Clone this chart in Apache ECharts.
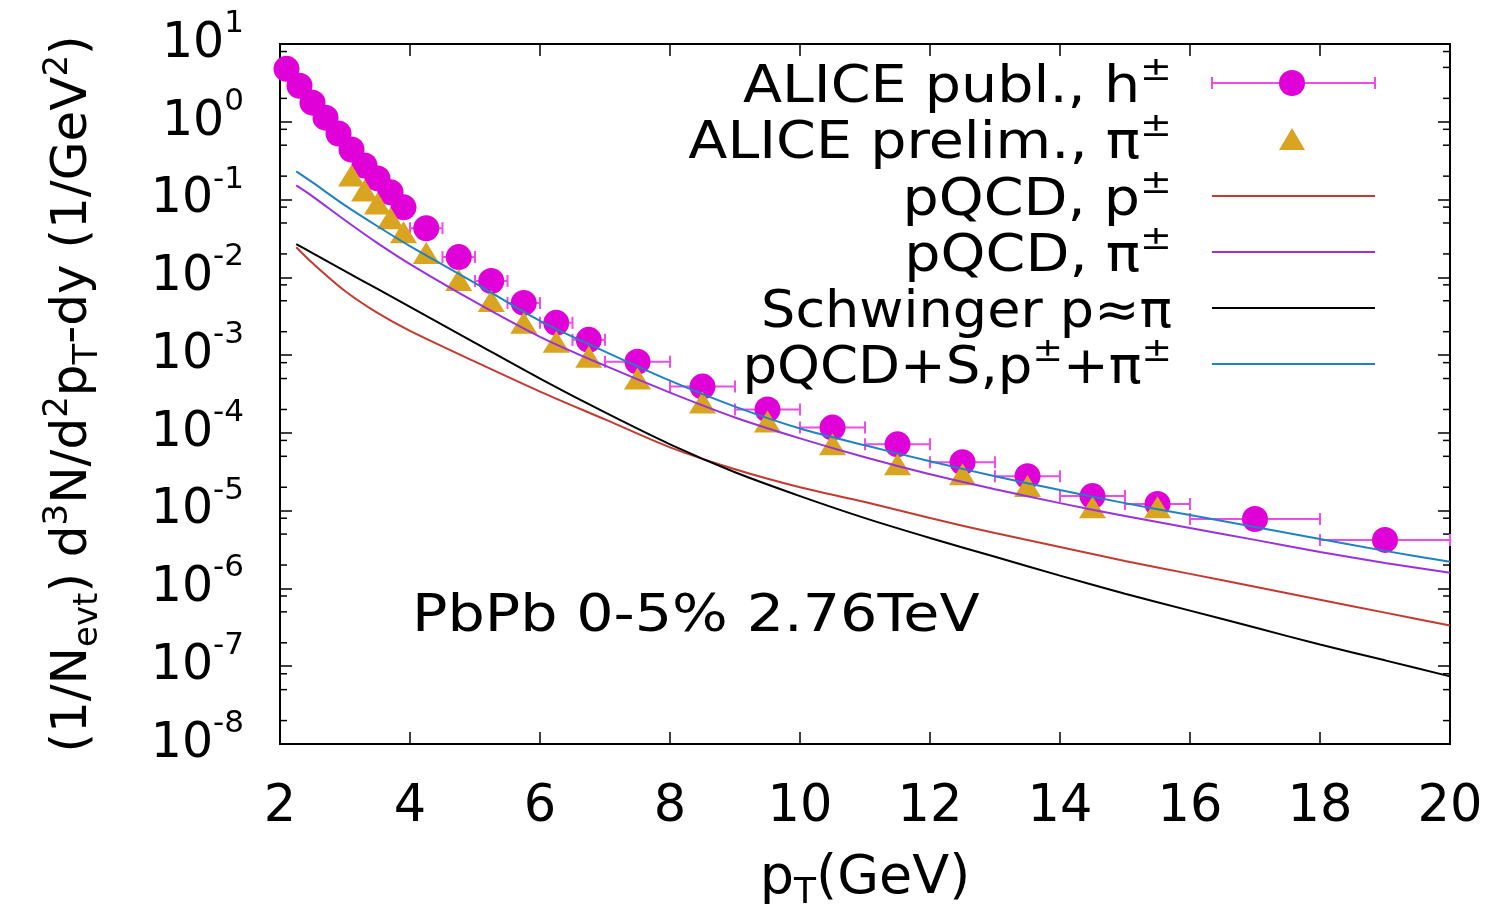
<!DOCTYPE html>
<html>
<head>
<meta charset="utf-8">
<script src="https://cdn.jsdelivr.net/npm/echarts@6/dist/echarts.min.js"></script>
<style>
html, body { margin: 0; padding: 0; background: #fff; }
#chart { width: 1499px; height: 917px; }
</style>
</head>
<body>
<div id="chart"></div>
<script>
/* ALICE published charged hadrons, bin centres / edges and yields */
const hPt  = [2.1, 2.3, 2.5, 2.7, 2.9, 3.1, 3.3, 3.5, 3.7, 3.9, 4.25, 4.75, 5.25, 5.75, 6.25, 6.75, 7.5, 8.5, 9.5, 10.5, 11.5, 12.5, 13.5, 14.5, 15.5, 17, 19];
const hLo  = [2.0, 2.2, 2.4, 2.6, 2.8, 3.0, 3.2, 3.4, 3.6, 3.8, 4.0, 4.5, 5.0, 5.5, 6.0, 6.5, 7, 8, 9, 10, 11, 12, 13, 14, 15, 16, 18];
const hHi  = [2.2, 2.4, 2.6, 2.8, 3.0, 3.2, 3.4, 3.6, 3.8, 4.0, 4.5, 5.0, 5.5, 6.0, 6.5, 7.0, 8, 9, 10, 11, 12, 13, 14, 15, 16, 18, 20];
const hVal = [4.79, 2.90, 1.76, 1.13, 0.705, 0.440, 0.274, 0.187, 0.124, 0.0794, 0.0428, 0.0182, 0.00897, 0.00469, 0.00260, 0.00157,
              8.24e-4, 3.94e-4, 2.00e-4, 1.17e-4, 7.12e-5, 4.19e-5, 2.77e-5, 1.54e-5, 1.22e-5, 7.80e-6, 4.21e-6];

/* ALICE preliminary pions */
const piPt  = [3.1, 3.3, 3.5, 3.7, 3.9, 4.25, 4.75, 5.25, 5.75, 6.25, 6.75, 7.5, 8.5, 9.5, 10.5, 11.5, 12.5, 13.5, 14.5, 15.5];
const piVal = [0.204, 0.131, 0.0893, 0.0574, 0.0380, 0.0205, 0.00923, 0.00497, 0.00260, 0.00148, 9.54e-4,
               4.99e-4, 2.46e-4, 1.40e-4, 7.13e-5, 3.95e-5, 2.94e-5, 2.07e-5, 1.11e-5, 1.11e-5];

/* model curves */
const curvePt   = [2.25, 2.5, 3, 3.5, 4, 5, 6, 7, 8, 9, 10, 11, 12, 13, 14, 15, 16, 17, 18, 19, 20];
const pqcdP     = [0.0244, 0.01525, 0.00668, 0.00349, 0.00205, 8.24e-4, 3.40e-4, 1.49e-4, 6.52e-5, 3.41e-5, 2.00e-5,
                   1.29e-5, 8.03e-6, 5.16e-6, 3.42e-6, 2.26e-6, 1.54e-6, 1.05e-6, 7.16e-7, 4.89e-7, 3.33e-7];
const pqcdPi    = [0.152, 0.110, 0.0542, 0.0275, 0.01479, 0.00483, 0.00172, 7.31e-4, 3.30e-4, 1.58e-4, 8.51e-5,
                   4.86e-5, 2.94e-5, 1.89e-5, 1.25e-5, 8.53e-6, 5.98e-6, 4.21e-6, 2.95e-6, 2.13e-6, 1.59e-6];
const schwinger = [0.0267, 0.0205, 0.01205, 0.00708, 0.00417, 0.00144, 4.99e-4, 1.83e-4, 7.13e-5, 3.12e-5, 1.54e-5,
                   8.03e-6, 4.46e-6, 2.55e-6, 1.46e-6, 8.55e-7, 5.19e-7, 3.14e-7, 1.90e-7, 1.19e-7, 7.40e-8];
const pqcdS     = [0.230, 0.166, 0.0843, 0.0454, 0.0252, 0.00845, 0.00276, 0.00111, 4.70e-4, 2.18e-4, 1.14e-4,
                   6.92e-5, 4.32e-5, 2.77e-5, 1.84e-5, 1.25e-5, 8.78e-6, 6.17e-6, 4.32e-6, 3.04e-6, 2.20e-6];

/* axis ranges and minor log ticks (2,5,8 x 10^n) */
const xMin = 2, xMax = 20, xStep = 2;
const yMin = 1e-8, yMax = 10;
const minorMult = [2, 5, 8];

const FONT = "'DejaVu Sans', sans-serif";
const C_H = '#e000d8', C_ERR = '#ee4ce6', C_PI = '#d9a521';
const C_RED = '#c43a30', C_PUR = '#9b30e0', C_BLK = '#000000', C_BLUE = '#1f82c4';

const zip = (a, b) => a.map((v, i) => [v, b[i]]);

let minorTicks = [];
for (let e = -8; e < 1; e++) {
    minorMult.forEach(m => minorTicks.push([xMin, m * Math.pow(10, e)]));
}

let chartDom = document.getElementById('chart');
let myChart = echarts.init(chartDom);

const supRich = {
    b: { fontFamily: FONT, fontSize: 49, lineHeight: 49, color: '#000' },
    e: { fontFamily: FONT, fontSize: 31, lineHeight: 31, padding: [0, 0, 40, 0], color: '#000' }
};

/* legend rows, built from graphic elements (gnuplot style key) */
const keyY = [83, 139, 196, 252, 308, 364];
const keyScale = [1.12, 1.12, 1.12, 1.12, 1.06, 1.07];
const keyText = [
    '{t|ALICE publ., h}{s|±}',
    '{t|ALICE prelim., π}{s|±}',
    '{t|pQCD, p}{s|±}',
    '{t|pQCD, π}{s|±}',
    '{t|Schwinger p≈π}',
    '{t|pQCD+S,p}{s|±}{t|+π}{s|±}'
];
const keyRich = {
    t: { fontFamily: FONT, fontSize: 51, lineHeight: 51, fill: '#000' },
    s: { fontFamily: FONT, fontSize: 34, lineHeight: 34, padding: [0, 0, 36, 0], fill: '#000' }
};
let graphics = [];
keyText.forEach((t, i) => {
    graphics.push({
        type: 'text', x: 1172, y: keyY[i] + 6, scaleX: keyScale[i],
        style: { text: t, align: 'right', verticalAlign: 'middle', rich: keyRich, fill: '#000' }
    });
});
const lineColors = [null, null, C_RED, C_PUR, C_BLK, C_BLUE];
for (let i = 2; i < 6; i++) {
    graphics.push({ type: 'line', shape: { x1: 1212, y1: keyY[i], x2: 1375, y2: keyY[i] }, style: { stroke: lineColors[i], lineWidth: 2 } });
}
graphics.push({ type: 'line', shape: { x1: 1212, y1: keyY[0], x2: 1375, y2: keyY[0] }, style: { stroke: C_ERR, lineWidth: 2 } });
graphics.push({ type: 'line', shape: { x1: 1212, y1: keyY[0] - 6, x2: 1212, y2: keyY[0] + 6 }, style: { stroke: C_ERR, lineWidth: 2 } });
graphics.push({ type: 'line', shape: { x1: 1375, y1: keyY[0] - 6, x2: 1375, y2: keyY[0] + 6 }, style: { stroke: C_ERR, lineWidth: 2 } });
graphics.push({ type: 'circle', shape: { cx: 1292, cy: keyY[0], r: 13 }, style: { fill: C_H } });
graphics.push({ type: 'polygon', shape: { points: [[1292, keyY[1] - 11], [1279, keyY[1] + 11], [1305, keyY[1] + 11]] }, style: { fill: C_PI } });
graphics.push({
    type: 'text', x: 412, y: 617, scaleX: 1.13,
    style: { text: 'PbPb 0-5% 2.76TeV', fontFamily: FONT, fontSize: 52, fill: '#000', align: 'left', verticalAlign: 'middle' }
});

let option = {
    animation: false,
    backgroundColor: '#fff',
    grid: { left: 280, right: 49, top: 44, bottom: 170, show: true, borderColor: '#000', borderWidth: 2 },
    xAxis: [
        {
            type: 'value', min: xMin, max: xMax, interval: xStep,
            name: '{t|p}{sub|T}{t|(GeV)}', nameLocation: 'middle', nameGap: 108,
            nameTextStyle: {
                rich: {
                    t: { fontFamily: FONT, fontSize: 54, lineHeight: 54, color: '#000' },
                    sub: { fontFamily: FONT, fontSize: 36, lineHeight: 36, padding: [30, 0, 0, 0], color: '#000' }
                }
            },
            axisLine: { lineStyle: { color: '#000', width: 2 } },
            axisTick: { inside: true, length: 12, lineStyle: { color: '#000', width: 1.5 } },
            axisLabel: { fontFamily: FONT, fontSize: 51, color: '#000', margin: 38 },
            splitLine: { show: false }
        },
        {
            type: 'value', position: 'top', min: xMin, max: xMax, interval: xStep,
            axisLine: { lineStyle: { color: '#000', width: 2 } },
            axisTick: { inside: true, length: 12, lineStyle: { color: '#000', width: 1.5 } },
            axisLabel: { show: false }, splitLine: { show: false }
        }
    ],
    yAxis: [
        {
            type: 'log', logBase: 10, min: yMin, max: yMax, splitNumber: 9,
            name: '{t|(1/N}{sub|evt}{t|) d}{sup|3}{t|N/d}{sup|2}{t|p}{sub|T}{t|-dy (1/GeV}{sup|2}{t|)}',
            nameLocation: 'middle', nameRotate: 90, nameGap: 182,
            nameTextStyle: {
                rich: {
                    t: { fontFamily: FONT, fontSize: 50, lineHeight: 50, color: '#000' },
                    sup: { fontFamily: FONT, fontSize: 34, lineHeight: 34, padding: [0, 0, 30, 0], color: '#000' },
                    sub: { fontFamily: FONT, fontSize: 34, lineHeight: 34, padding: [30, 0, 0, 0], color: '#000' }
                }
            },
            axisLine: { lineStyle: { color: '#000', width: 2 } },
            axisTick: { inside: true, length: 12, lineStyle: { color: '#000', width: 1.5 } },
            axisLabel: {
                margin: 36,
                formatter: function (v) {
                    return '{b|10}{e|' + Math.round(Math.log10(v)) + '}';
                },
                rich: supRich
            },
            splitLine: { show: false }
        },
        {
            type: 'log', logBase: 10, min: yMin, max: yMax, splitNumber: 9, position: 'right',
            axisLine: { lineStyle: { color: '#000', width: 2 } },
            axisTick: { inside: true, length: 12, lineStyle: { color: '#000', width: 1.5 } },
            axisLabel: { show: false }, splitLine: { show: false }
        }
    ],
    graphic: graphics,
    series: [
        {
            /* minor log ticks on both vertical borders */
            type: 'custom', silent: true, clip: false,
            data: minorTicks,
            renderItem: function (params, api) {
                const l = api.coord([xMin, api.value(1)]);
                const r = api.coord([xMax, api.value(1)]);
                const st = { stroke: '#000', lineWidth: 1.5 };
                return {
                    type: 'group', children: [
                        { type: 'line', shape: { x1: l[0], y1: l[1], x2: l[0] + 7, y2: l[1] }, style: st },
                        { type: 'line', shape: { x1: r[0], y1: r[1], x2: r[0] - 7, y2: r[1] }, style: st }
                    ]
                };
            }
        },
        {
            name: 'ALICE publ. errors', type: 'custom', silent: true,
            data: hPt.map((p, i) => [p, hVal[i], hLo[i], hHi[i]]),
            encode: { x: 0, y: 1 },
            renderItem: function (params, api) {
                const lo = api.coord([api.value(2), api.value(1)]);
                const hi = api.coord([api.value(3), api.value(1)]);
                const st = { stroke: C_ERR, lineWidth: 2 };
                return {
                    type: 'group', children: [
                        { type: 'line', shape: { x1: lo[0], y1: lo[1], x2: hi[0], y2: hi[1] }, style: st },
                        { type: 'line', shape: { x1: lo[0], y1: lo[1] - 6, x2: lo[0], y2: lo[1] + 6 }, style: st },
                        { type: 'line', shape: { x1: hi[0], y1: hi[1] - 6, x2: hi[0], y2: hi[1] + 6 }, style: st }
                    ]
                };
            }
        },
        {
            name: 'ALICE publ., h±', type: 'scatter', symbol: 'circle', symbolSize: 26,
            itemStyle: { color: C_H, opacity: 1 },
            data: zip(hPt, hVal)
        },
        {
            name: 'ALICE prelim., π±', type: 'scatter', symbol: 'triangle', symbolSize: [27, 22],
            itemStyle: { color: C_PI, opacity: 1 },
            data: zip(piPt, piVal)
        },
        {
            name: 'pQCD, p±', type: 'line', smooth: 0.3, showSymbol: false,
            lineStyle: { color: C_RED, width: 2 }, data: zip(curvePt, pqcdP)
        },
        {
            name: 'pQCD, π±', type: 'line', smooth: 0.3, showSymbol: false,
            lineStyle: { color: C_PUR, width: 2 }, data: zip(curvePt, pqcdPi)
        },
        {
            name: 'Schwinger p≈π', type: 'line', smooth: 0.3, showSymbol: false,
            lineStyle: { color: C_BLK, width: 2 }, data: zip(curvePt, schwinger)
        },
        {
            name: 'pQCD+S,p±+π±', type: 'line', smooth: 0.3, showSymbol: false,
            lineStyle: { color: C_BLUE, width: 2 }, data: zip(curvePt, pqcdS)
        }
    ]
};

option && myChart.setOption(option);

window.addEventListener('resize', () => {
    myChart.resize();
});
</script>
</body>
</html>
